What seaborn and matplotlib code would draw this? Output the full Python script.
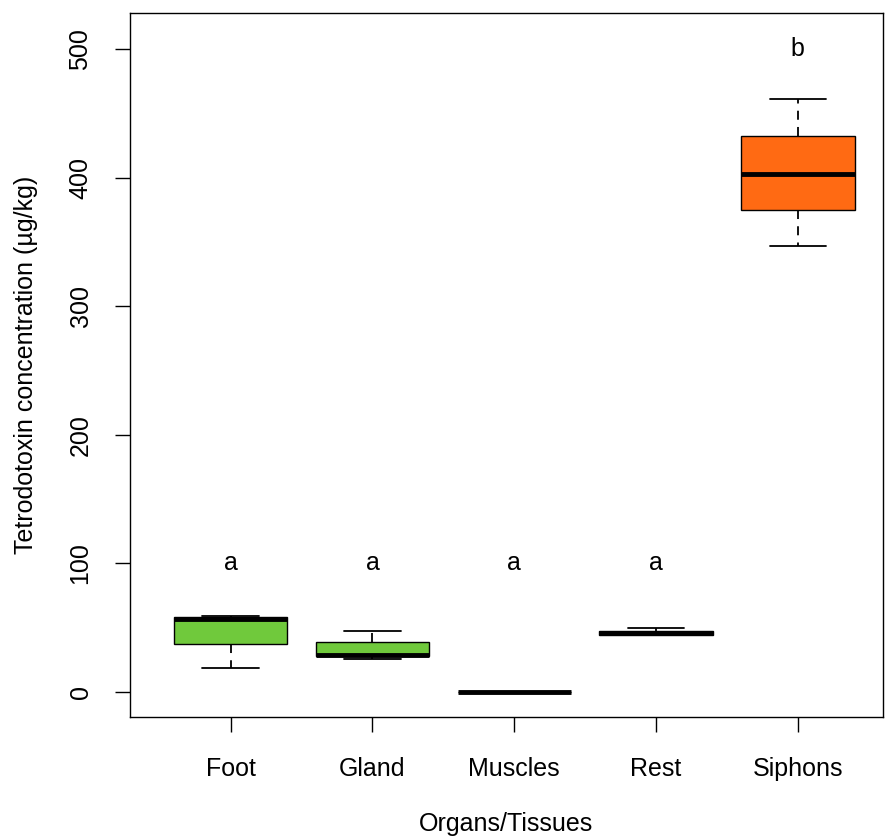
import seaborn as sns
import pandas as pd
import matplotlib.pyplot as plt

# five-number summaries (min, Q1, median, Q3, max)
organs = ['Foot', 'Gland', 'Muscles', 'Rest', 'Siphons']
foot = [19, 37, 57, 58, 59]
gland = [26, 28, 29, 39, 47.5]
muscles = [0, 0, 0, 0, 0]
rest = [44, 44.5, 46, 47.5, 50]
siphons = [347, 375, 403, 432, 461]
letters = ['a', 'a', 'a', 'a', 'b']
letter_y = [100, 100, 100, 100, 500]
colors = ['#70C93C', '#70C93C', '#70C93C', '#70C93C', '#FF6A13']

values = {'Foot': foot, 'Gland': gland, 'Muscles': muscles, 'Rest': rest, 'Siphons': siphons}
df = pd.DataFrame([(k, v) for k in organs for v in values[k]], columns=['organ', 'ttx'])

sns.set_style('ticks')
plt.rcParams['font.family'] = ['Liberation Sans', 'DejaVu Sans']
plt.rcParams.update({'text.color': 'black', 'axes.labelcolor': 'black',
                     'xtick.color': 'black', 'ytick.color': 'black'})

fig = plt.figure(figsize=(8.85, 8.39), dpi=100)
ax = fig.add_axes([0.1469, 0.1454, 0.8508, 0.8391])

sns.boxplot(
    data=df, x='organ', y='ttx', hue='organ', order=organs,
    palette=dict(zip(organs, colors)), saturation=1, legend=False, ax=ax,
    width=0.8, linecolor='black', linewidth=1.0, whis=1.5, fliersize=0,
    whiskerprops={'linestyle': (0, (5, 4)), 'linewidth': 1.3},
    capprops={'linewidth': 1.3},
    medianprops={'linewidth': 3.5, 'solid_capstyle': 'butt'},
)

for i, (t, y) in enumerate(zip(letters, letter_y)):
    ax.text(i, y, t, ha='center', va='center', fontsize=18)

ax.set_xlim(-0.71, 4.6)
ax.set_ylim(-19.5, 528)
ax.set_yticks([0, 100, 200, 300, 400, 500])
ax.set_yticklabels(['0', '100', '200', '300', '400', '500'], rotation=90, va='center')
ax.tick_params(axis='both', labelsize=18, length=11, width=1)
ax.tick_params(axis='x', pad=18)
ax.tick_params(axis='y', pad=16)

ax.set_xlabel('Organs/Tissues', fontsize=18, labelpad=22)
ax.set_ylabel('Tetrodotoxin concentration (µg/kg)', fontsize=18, labelpad=22)

for s in ax.spines.values():
    s.set_visible(True)
    s.set_color('black')
    s.set_linewidth(1)

fig.savefig('out.png', dpi=100)
